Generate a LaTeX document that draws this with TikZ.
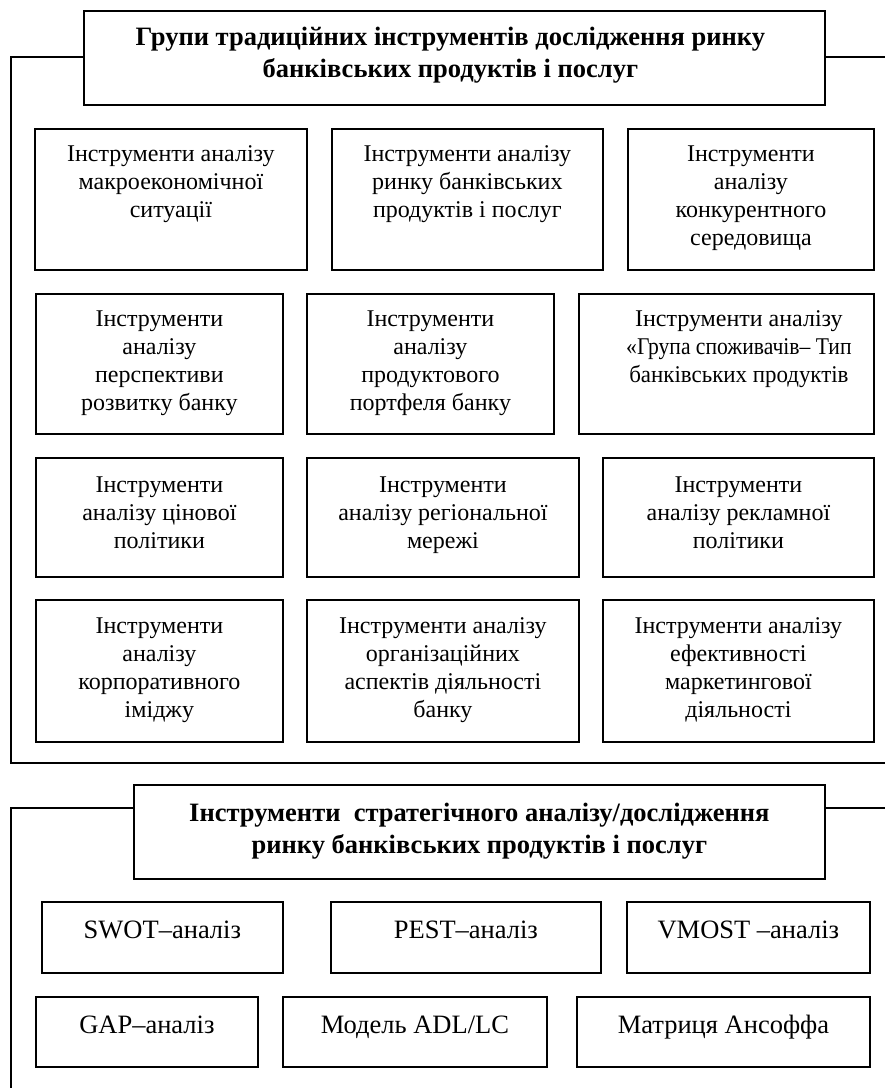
\documentclass[tikz,border=0pt]{standalone}
\usepackage{fontspec}
\usepackage{graphicx}
\setmainfont{Liberation Serif}
\tikzset{
  box/.style={draw, line width=1.8pt, inner sep=0pt, anchor=north west},
  txt/.style={anchor=north, align=center, inner sep=0pt,
    font=\fontsize{24}{28}\selectfont},
  txtb/.style={anchor=north, align=center, inner sep=0pt,
    font=\fontsize{26.5}{30}\selectfont},
  ttl/.style={anchor=north, align=center, inner sep=0pt,
    font=\fontsize{26.5}{32}\selectfont\bfseries},
  frameline/.style={line width=1.8pt},
}
% name, x, y, width, height, text offset, text
\newcommand{\mybox}[7]{%
  \node[box, minimum width=#4pt, minimum height=#5pt] (#1) at (#2,#3) {};
  \node[txt] (#1t) at ([yshift=-#6pt]#1.north) {\rule{0pt}{19.6pt}#7};}
\newcommand{\mybigbox}[7]{%
  \node[box, minimum width=#4pt, minimum height=#5pt] (#1) at (#2,#3) {};
  \node[txtb] (#1t) at ([yshift=-#6pt]#1.north) {\rule{0pt}{19.6pt}#7};}
\begin{document}
\begin{tikzpicture}[x=1pt,y=-1pt]
\useasboundingbox (0,0) rectangle (885,1088);

% ---- Section 1 ----
\node[box, minimum width=741pt, minimum height=94pt] (H1) at (83,10) {};
\node[ttl] (H1t) at ([xshift=-4pt,yshift=-12.6pt]H1.north) {\rule{0pt}{22.4pt}Групи традиційних інструментів дослідження ринку\\банківських продуктів і послуг};
\coordinate (f1tl) at (11,57);
\coordinate (f1bl) at (11,763);
\coordinate (f1br) at (885,763);
\coordinate (f1tr) at (885,57);
\draw[frameline] (H1.west |- f1tl) -- (f1tl) -- (f1bl) -- (f1br);
\draw[frameline] (H1.east |- f1tr) -- (f1tr);

\mybox{A}{34}{128}{272}{141}{13.4}{Інструменти аналізу\\макроекономічної\\ситуації}
\mybox{B}{331}{128}{271}{141}{13.4}{Інструменти аналізу\\ринку банківських\\продуктів і послуг}
\mybox{C}{627}{128}{246}{141}{13.4}{Інструменти\\аналізу\\конкурентного\\середовища}

\mybox{D}{35}{293}{247}{140}{13.8}{Інструменти\\аналізу\\перспективи\\розвитку банку}
\mybox{E}{306}{293}{247}{140}{13.8}{Інструменти\\аналізу\\продуктового\\портфеля банку}
\node[box, minimum width=295pt, minimum height=140pt] (F) at (578,293) {};
\node[txt] (Ft) at ([xshift=12.5pt,yshift=-13.8pt]F.north) {\rule{0pt}{19.6pt}Інструменти аналізу\\\scalebox{0.9}[1]{«Група споживачів– Тип}\\\scalebox{0.955}[1]{банківських продуктів}};

\mybox{G}{35}{457}{247}{119}{15.4}{Інструменти\\аналізу цінової\\політики}
\mybox{H}{306}{457}{272}{119}{15.4}{Інструменти\\аналізу регіональної\\мережі}
\mybox{I}{602}{457}{271}{119}{15.4}{Інструменти\\аналізу рекламної\\політики}

\mybox{J}{35}{599}{247}{142}{14.4}{Інструменти\\аналізу\\корпоративного\\іміджу}
\mybox{K}{306}{599}{272}{142}{14.4}{Інструменти аналізу\\організаційних\\аспектів діяльності\\банку}
\mybox{L}{602}{599}{271}{142}{14.4}{Інструменти аналізу\\ефективності\\маркетингової\\діяльності}

% ---- Section 2 ----
\node[box, minimum width=691pt, minimum height=94pt] (H2) at (133,784) {};
\node[ttl] (H2t) at ([yshift=-14.6pt]H2.north) {\rule{0pt}{22.4pt}Інструменти\ \ стратегічного аналізу/дослідження\\ринку банківських продуктів і послуг};
\coordinate (f2tl) at (11,808);
\coordinate (f2bl) at (11,1088);
\coordinate (f2tr) at (885,808);
\draw[frameline] (H2.west |- f2tl) -- (f2tl) -- (f2bl);
\draw[frameline] (H2.east |- f2tr) -- (f2tr);

\mybigbox{S1}{41}{901}{241}{71}{17.4}{SWOT–аналіз}
\mybigbox{S2}{330}{901}{270}{71}{17.4}{PEST–аналіз}
\mybigbox{S3}{626}{901}{243}{71}{17.4}{VMOST –аналіз}
\mybigbox{S4}{35}{996}{222}{70}{17.4}{GAP–аналіз}
\mybigbox{S5}{282}{996}{264}{70}{17.4}{Модель ADL/LC}
\mybigbox{S6}{576}{996}{293}{70}{17.4}{Матриця Ансоффа}
\end{tikzpicture}
\end{document}
